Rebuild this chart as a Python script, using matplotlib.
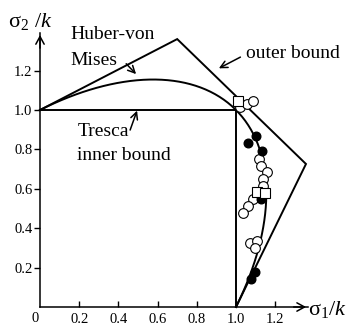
import matplotlib

matplotlib.use("Agg")

import matplotlib.pyplot as plt
import numpy as np

plt.rcParams["font.family"] = "Liberation Serif"
plt.rcParams["mathtext.fontset"] = "custom"
plt.rcParams["mathtext.rm"] = "Liberation Serif"
plt.rcParams["mathtext.it"] = "Liberation Serif:italic"

# Tresca hexagon (inner bound), first quadrant
tresca_s1 = [0.0, 1.0, 1.0]
tresca_s2 = [1.0, 1.0, 0.0]

# outer bound polygon
outer_s1 = [0.0, 0.70, 1.357, 1.0]
outer_s2 = [1.0, 1.36, 0.726, 0.0]

# test points
sq_s1 = [1.012, 1.109, 1.148]
sq_s2 = [1.047, 0.586, 0.580]
open_s1 = [1.022, 1.055, 1.085, 1.117, 1.129, 1.157, 1.136, 1.136, 1.085, 1.063, 1.037, 1.073, 1.105, 1.095]
open_s2 = [1.013, 1.030, 1.047, 0.750, 0.716, 0.685, 0.650, 0.614, 0.546, 0.513, 0.479, 0.326, 0.336, 0.298]
full_s1 = [1.102, 1.060, 1.131, 1.129, 1.097, 1.078]
full_s2 = [0.868, 0.831, 0.794, 0.546, 0.176, 0.141]

x_ticks = [0.2, 0.4, 0.6, 0.8, 1.0, 1.2]
y_ticks = [0.2, 0.4, 0.6, 0.8, 1.0, 1.2]

# Huber-von Mises ellipse s1^2 - s1*s2 + s2^2 = 1, from (0,1) to (1,0)
t = np.radians(np.linspace(-60, 60, 200))
u = np.sqrt(2) * np.cos(t)
v = np.sqrt(2 / 3) * np.sin(t)
mises_s1 = (u + v) / np.sqrt(2)
mises_s2 = (u - v) / np.sqrt(2)

fig = plt.figure(figsize=(3.49, 3.28), dpi=100)
ax = fig.add_axes([0, 0, 1, 1])
ax.set_xlim(-40 / 196, 309 / 196)
ax.set_ylim(-21 / 197, 307 / 197)

lw = 1.4
ax.plot(tresca_s1, tresca_s2, color="black", lw=lw, solid_joinstyle="miter")
ax.plot(outer_s1, outer_s2, color="black", lw=lw, solid_joinstyle="miter")
ax.plot(mises_s1, mises_s2, color="black", lw=lw)

ax.plot(open_s1, open_s2, "o", ms=7, mfc="white", mec="black", mew=0.8)
ax.plot(full_s1, full_s2, "o", ms=6.2, mfc="black", mec="black")
ax.plot(sq_s1, sq_s2, "s", ms=6.5, mfc="white", mec="black", mew=0.8)

# axes through the origin, with arrow heads
for side in ["top", "right"]:
    ax.spines[side].set_visible(False)
ax.spines["left"].set_position(("data", 0))
ax.spines["bottom"].set_position(("data", 0))
ax.spines["left"].set_bounds(0, 1.39)
ax.spines["bottom"].set_bounds(0, 1.367)
ax.spines["left"].set_linewidth(1.1)
ax.spines["bottom"].set_linewidth(1.1)
head = dict(arrowstyle="->,head_length=0.55,head_width=0.3", lw=1.1, color="black")
ax.annotate("", xy=(0, 1.395), xytext=(0, 1.30), arrowprops=head, annotation_clip=False)
ax.annotate("", xy=(1.372, 0), xytext=(1.28, 0), arrowprops=head, annotation_clip=False)

ax.set_xticks(x_ticks, [f"{v:.1f}" for v in x_ticks])
ax.set_yticks(y_ticks, [f"{v:.1f}" for v in y_ticks])
ax.tick_params(axis="x", direction="in", length=4.5, width=1, labelsize=10.5, pad=4)
ax.tick_params(axis="y", direction="out", length=4, width=1, labelsize=10.5, pad=1.5)
ax.text(-0.025, -0.025, "0", ha="center", va="top", fontsize=10.5)

# axis labels
ax.text(-0.163, 1.42, "σ$_2$ /$k$", fontsize=16, ha="left", va="baseline")
ax.text(1.367, -0.04, "σ$_1$/$k$", fontsize=16, ha="left", va="baseline")

# annotations
arrow = dict(arrowstyle="->,head_length=0.5,head_width=0.25", lw=1.1, color="black")
ax.text(0.153, 1.36, "Huber-von", fontsize=14, ha="left", va="baseline")
ax.text(0.153, 1.23, "Mises", fontsize=14, ha="left", va="baseline")
ax.annotate("", xy=(0.50, 1.172), xytext=(0.43, 1.245), arrowprops=arrow)

ax.text(0.19, 0.87, "Tresca", fontsize=14, ha="left", va="baseline")
ax.text(0.19, 0.745, "inner bound", fontsize=14, ha="left", va="baseline")
ax.annotate("", xy=(0.50, 1.01), xytext=(0.455, 0.885), arrowprops=arrow)

ax.text(1.05, 1.265, "outer bound", fontsize=14, ha="left", va="baseline")
ax.annotate("", xy=(0.90, 1.205), xytext=(1.035, 1.275), arrowprops=arrow)

fig.savefig("out.png", dpi=100)
